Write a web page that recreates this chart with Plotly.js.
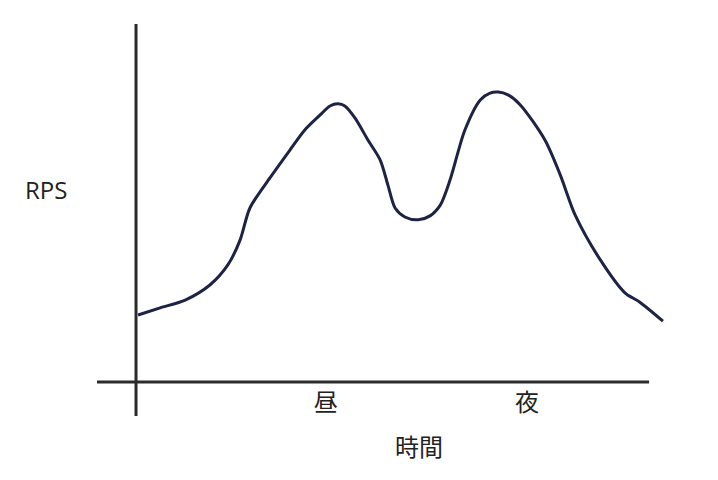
<!DOCTYPE html>
<html>
<head>
<meta charset="utf-8">
<script src="https://cdn.plot.ly/plotly-3.0.1.min.js"></script>
<style>html,body{margin:0;padding:0;background:#fff;}#chart{width:718px;height:480px;}</style>
</head>
<body>
<div id="chart"></div>
<script>
// Time (arbitrary units) and request rate (relative)
var timeValues = [0.4, 4.7, 9.6, 14.4, 17.9, 20.3, 22.2, 26.1, 30.0, 32.9, 35.9, 37.8, 39.4, 40.7, 42.7, 45.2, 47.6, 49.1, 50.5, 52.4, 55.0, 57.3, 59.3, 61.2, 64.1, 67.1, 69.0, 70.6, 72.5, 74.9, 79.7, 82.7, 85.6, 90.5, 95.3, 98.2, 102.7];
var rpsValues  = [18.7, 20.7, 22.9, 27.1, 32.7, 39.7, 48.6, 57.0, 64.8, 70.4, 74.6, 77.1, 77.7, 77.1, 73.7, 67.6, 62.0, 55.0, 48.6, 46.1, 45.3, 46.4, 49.4, 56.4, 70.4, 78.8, 80.7, 81.0, 80.2, 77.4, 67.6, 57.8, 46.6, 34.1, 24.9, 22.3, 17.0];
var tickPositions = [37.0, 76.2];
var tickLabels = ["昼", "夜"];
var xTitle = "時間";
var yTitle = "RPS";

var jp = '"Noto Sans CJK JP", "Noto Sans", sans-serif';

var trace = {
  x: timeValues, y: rpsValues, mode: 'lines', type: 'scatter',
  line: {color: '#1e2345', width: 3, shape: 'spline', smoothing: 0.8},
  hoverinfo: 'skip'
};

var layout = {
  width: 718, height: 480,
  margin: {l: 97, r: 53, t: 24, b: 98},
  paper_bgcolor: '#ffffff', plot_bgcolor: '#ffffff',
  showlegend: false,
  xaxis: {
    range: [-7.6, 103.1], showgrid: false, zeroline: false, showline: false,
    tickmode: 'array', tickvals: tickPositions, ticktext: tickLabels, ticks: '',
    ticklabelstandoff: 4,
    tickfont: {family: jp, size: 24, color: '#222'}
  },
  yaxis: {
    range: [0, 100], showgrid: false, zeroline: false, showline: false,
    showticklabels: false, ticks: ''
  },
  annotations: [{
    xref: 'paper', yref: 'paper', x: -0.0898, y: 0.538, xanchor: 'center', yanchor: 'middle',
    text: yTitle, showarrow: false, font: {family: '"Open Sans", "Noto Sans", sans-serif', size: 24, color: '#222'}
  }, {
    xref: 'paper', yref: 'paper', x: 0.567, y: -0.176, xanchor: 'center', yanchor: 'middle',
    text: xTitle, showarrow: false, font: {family: jp, size: 24, color: '#222'}
  }],
  shapes: [
    {type: 'line', xref: 'paper', yref: 'paper', x0: 0, x1: 0.972, y0: 0, y1: 0,
     line: {color: '#2b2b2b', width: 3}},
    {type: 'line', xref: 'paper', yref: 'paper', x0: 0.0687, x1: 0.0687, y0: -0.095, y1: 1,
     line: {color: '#2b2b2b', width: 3}}
  ]
};

Plotly.newPlot('chart', [trace], layout, {displayModeBar: false, staticPlot: true});
</script>
</body>
</html>
